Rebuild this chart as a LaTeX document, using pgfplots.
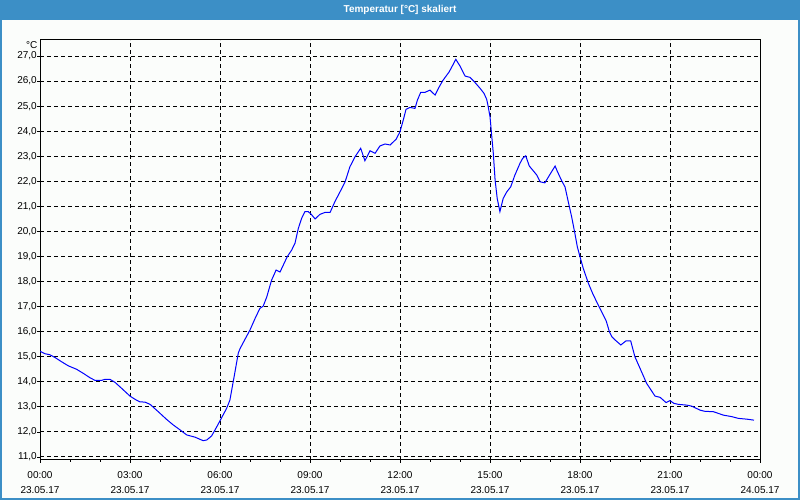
\documentclass[border=0pt]{standalone}
\usepackage{pgfplots}
\pgfplotsset{compat=1.18}
\usepackage{fontspec}
\setmainfont{Liberation Sans}
\definecolor{titlebar}{RGB}{60,143,198}
\definecolor{bg}{RGB}{251,253,251}
\pgfplotstableread{
h T
0.00 15.22
0.17 15.12
0.33 15.08
0.50 14.97
0.72 14.80
0.94 14.64
1.22 14.50
1.44 14.34
1.67 14.16
1.83 14.06
2.06 14.06
2.17 14.10
2.33 14.10
2.50 13.98
2.72 13.74
3.00 13.43
3.17 13.30
3.33 13.20
3.50 13.19
3.67 13.10
3.94 12.81
4.22 12.50
4.44 12.28
4.67 12.08
4.89 11.88
5.17 11.79
5.44 11.65
5.56 11.68
5.72 11.84
5.89 12.20
6.06 12.58
6.22 12.94
6.33 13.27
6.39 13.67
6.47 14.20
6.61 15.15
6.67 15.33
7.00 16.07
7.17 16.53
7.33 16.93
7.44 17.02
7.56 17.39
7.72 18.06
7.87 18.46
8.00 18.38
8.11 18.66
8.24 18.99
8.39 19.26
8.50 19.53
8.61 20.12
8.72 20.52
8.83 20.79
8.94 20.79
9.03 20.70
9.17 20.50
9.33 20.68
9.50 20.76
9.67 20.76
9.83 21.19
10.00 21.58
10.17 21.98
10.33 22.58
10.50 22.98
10.69 23.32
10.83 22.82
11.00 23.22
11.17 23.12
11.33 23.41
11.50 23.49
11.67 23.45
11.87 23.68
12.00 23.98
12.11 24.45
12.20 24.87
12.33 24.95
12.50 24.91
12.58 25.24
12.69 25.55
12.83 25.55
13.00 25.64
13.17 25.44
13.28 25.71
13.42 26.01
13.64 26.37
13.76 26.64
13.86 26.87
14.00 26.60
14.17 26.20
14.33 26.15
14.48 25.97
14.67 25.71
14.80 25.51
14.89 25.27
14.94 24.98
15.00 24.58
15.06 23.78
15.11 23.12
15.17 22.05
15.24 21.32
15.33 20.79
15.44 21.32
15.56 21.58
15.69 21.78
15.83 22.25
16.00 22.72
16.09 22.92
16.19 23.02
16.31 22.61
16.47 22.38
16.56 22.25
16.67 21.98
16.83 21.94
17.00 22.28
17.17 22.61
17.24 22.41
17.39 22.02
17.50 21.78
17.61 21.18
17.72 20.59
17.83 19.92
17.91 19.39
18.00 18.99
18.11 18.52
18.28 17.93
18.42 17.53
18.58 17.13
18.72 16.80
18.87 16.44
18.98 16.00
19.06 15.80
19.17 15.67
19.36 15.47
19.53 15.63
19.69 15.63
19.83 15.00
20.00 14.54
20.22 13.94
20.50 13.43
20.67 13.38
20.87 13.17
21.00 13.25
21.13 13.14
21.28 13.10
21.56 13.07
21.72 13.03
22.00 12.87
22.17 12.82
22.44 12.81
22.61 12.74
22.78 12.67
23.06 12.61
23.28 12.54
23.56 12.51
23.80 12.47
}\temp
\begin{document}
\begin{tikzpicture}
\useasboundingbox (0pt,0pt) rectangle (800pt,500pt);
\fill[bg] (0pt,0pt) rectangle (800pt,500pt);
\fill[titlebar] (0pt,480pt) rectangle (800pt,500pt);
\draw[titlebar, line width=2pt] (1pt,500pt) -- (1pt,1pt) -- (799pt,1pt) -- (799pt,500pt);
\node[text=white, font=\bfseries\fontsize{10}{12}\selectfont] at (400pt,490pt) {Temperatur [°C] skaliert};
\node[anchor=east, inner sep=0pt, font=\fontsize{10}{12}\selectfont] at (37.5pt,455pt) {°C};
\begin{axis}[
  at={(40pt,40pt)}, anchor=south west,
  width=720pt, height=420pt, scale only axis,
  xmin=0, xmax=24, ymin=10.88, ymax=27.64,
  axis line style={black, line width=1pt},
  tick pos=left, tick align=outside,
  major tick length=3pt, minor tick length=2pt,
  tick style={black, line width=0.8pt},
  xtick={0,3,...,24},
  minor x tick num=2,
  ytick={11,12,...,27},
  xticklabels={{00:00\\23.05.17},{03:00\\23.05.17},{06:00\\23.05.17},{09:00\\23.05.17},{12:00\\23.05.17},{15:00\\23.05.17},{18:00\\23.05.17},{21:00\\23.05.17},{00:00\\24.05.17}},
  xticklabel style={align=center, font=\fontsize{10}{15}\selectfont, inner sep=0pt, yshift=-8pt},
  yticklabel style={font=\fontsize{10}{12}\selectfont, inner sep=0pt, xshift=0pt},
  /pgf/number format/.cd, fixed, fixed zerofill, precision=1, use comma, assume math mode=true,
  /pgfplots/.cd,
  grid=major,
  major grid style={black, line width=1pt, dash pattern=on 4pt off 3pt},
]
\addplot[color={rgb,255:red,0;green,0;blue,255}, line width=1pt, mark=none] table[x=h, y=T] {\temp};
\end{axis}
\end{tikzpicture}
\end{document}
